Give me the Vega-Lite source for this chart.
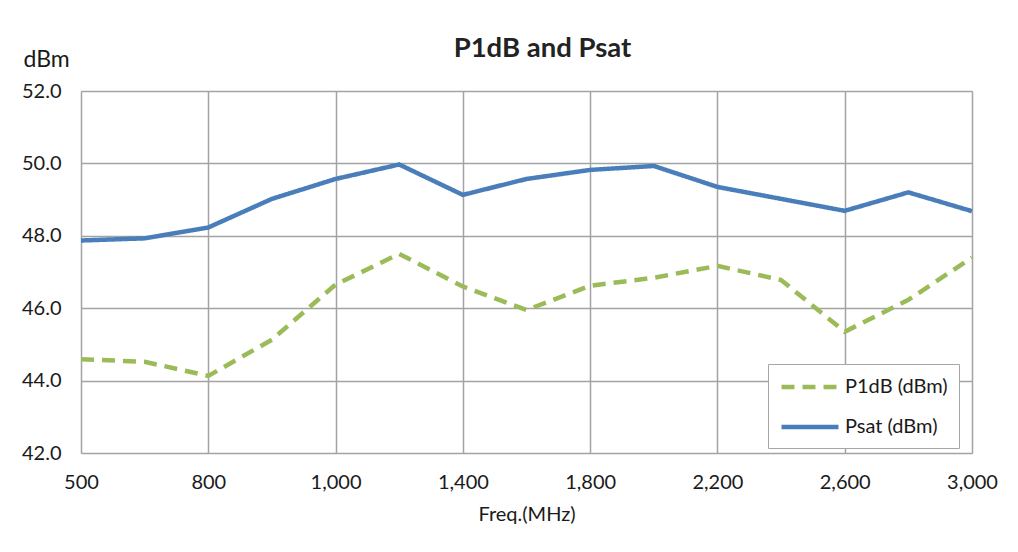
{
  "$schema": "https://vega.github.io/schema/vega-lite/v6.json",
  "autosize": {"type": "none"},
  "width": 891,
  "height": 362,
  "padding": {"left": 81, "top": 91, "right": 46, "bottom": 99},
  "background": "white",
  "title": {
    "text": "P1dB and Psat",
    "font": "Lato",
    "fontSize": 27.5,
    "fontWeight": "bold",
    "color": "#222222",
    "anchor": "middle",
    "baseline": "alphabetic",
    "dx": 16,
    "offset": 0,
    "dy": 36
  },
  "data": {
    "values": [
      {"freq": 500, "series": "P1dB (dBm)", "value": 44.59},
      {"freq": 600, "series": "P1dB (dBm)", "value": 44.52},
      {"freq": 800, "series": "P1dB (dBm)", "value": 44.13},
      {"freq": 900, "series": "P1dB (dBm)", "value": 45.13},
      {"freq": 1000, "series": "P1dB (dBm)", "value": 46.65},
      {"freq": 1200, "series": "P1dB (dBm)", "value": 47.5},
      {"freq": 1400, "series": "P1dB (dBm)", "value": 46.6},
      {"freq": 1600, "series": "P1dB (dBm)", "value": 45.95},
      {"freq": 1800, "series": "P1dB (dBm)", "value": 46.62},
      {"freq": 2000, "series": "P1dB (dBm)", "value": 46.84},
      {"freq": 2200, "series": "P1dB (dBm)", "value": 47.17},
      {"freq": 2400, "series": "P1dB (dBm)", "value": 46.78},
      {"freq": 2600, "series": "P1dB (dBm)", "value": 45.35},
      {"freq": 2800, "series": "P1dB (dBm)", "value": 46.23},
      {"freq": 3000, "series": "P1dB (dBm)", "value": 47.4},
      {"freq": 500, "series": "Psat (dBm)", "value": 47.87},
      {"freq": 600, "series": "Psat (dBm)", "value": 47.93},
      {"freq": 800, "series": "Psat (dBm)", "value": 48.23},
      {"freq": 900, "series": "Psat (dBm)", "value": 49.02},
      {"freq": 1000, "series": "Psat (dBm)", "value": 49.57},
      {"freq": 1200, "series": "Psat (dBm)", "value": 49.97},
      {"freq": 1400, "series": "Psat (dBm)", "value": 49.13},
      {"freq": 1600, "series": "Psat (dBm)", "value": 49.57},
      {"freq": 1800, "series": "Psat (dBm)", "value": 49.82},
      {"freq": 2000, "series": "Psat (dBm)", "value": 49.93},
      {"freq": 2200, "series": "Psat (dBm)", "value": 49.35},
      {"freq": 2400, "series": "Psat (dBm)", "value": 49.02},
      {"freq": 2600, "series": "Psat (dBm)", "value": 48.69},
      {"freq": 2800, "series": "Psat (dBm)", "value": 49.2},
      {"freq": 3000, "series": "Psat (dBm)", "value": 48.68}
    ]
  },
  "mark": {"type": "line", "strokeWidth": 4.5, "strokeCap": "butt", "strokeJoin": "miter"},
  "encoding": {
    "x": {
      "field": "freq",
      "type": "ordinal",
      "scale": {"type": "point", "padding": 0},
      "axis": {
        "title": "Freq.(MHz)",
        "values": [500, 800, 1000, 1400, 1800, 2200, 2600, 3000],
        "labelExpr": "format(datum.value, ',')",
        "labelAngle": 0,
        "grid": true,
        "gridColor": "#a3a3a3",
        "gridWidth": 1.5,
        "domain": false,
        "ticks": false,
        "labelPadding": 19,
        "labelFont": "Lato",
        "labelFontSize": 20,
        "labelColor": "#1a1a1a",
        "titleFont": "Lato",
        "titleFontSize": 20,
        "titleFontWeight": "normal",
        "titleColor": "#1a1a1a",
        "titlePadding": 12
      }
    },
    "y": {
      "field": "value",
      "type": "quantitative",
      "scale": {"domain": [42, 52], "nice": false, "zero": false},
      "axis": {
        "values": [42, 44, 46, 48, 50, 52],
        "format": ".1f",
        "grid": true,
        "gridColor": "#a3a3a3",
        "gridWidth": 1.5,
        "domain": false,
        "ticks": false,
        "labelPadding": 20,
        "labelFont": "Lato",
        "labelFontSize": 20,
        "labelColor": "#1a1a1a",
        "title": "dBm",
        "titleAngle": 0,
        "titleAlign": "left",
        "titleBaseline": "alphabetic",
        "titleX": -58,
        "titleY": -25,
        "titleFont": "Lato",
        "titleFontSize": 23,
        "titleFontWeight": "normal",
        "titleColor": "#1a1a1a"
      }
    },
    "color": {
      "field": "series",
      "type": "nominal",
      "scale": {"domain": ["P1dB (dBm)", "Psat (dBm)"], "range": ["#9bbb59", "#4a7ebb"]},
      "legend": {
        "title": null,
        "orient": "none",
        "legendX": 687,
        "legendY": 273,
        "padding": 11,
        "rowPadding": 18,
        "symbolType": "M-1,0H5",
        "symbolSize": 361,
        "symbolStrokeWidth": 4.5,
        "labelOffset": 42,
        "labelFont": "Lato",
        "labelFontSize": 20,
        "labelColor": "#1a1a1a",
        "strokeColor": "#a6a6a6",
        "fillColor": "white"
      }
    },
    "strokeDash": {
      "field": "series",
      "type": "nominal",
      "scale": {"domain": ["P1dB (dBm)", "Psat (dBm)"], "range": [[13, 8], [1, 0]]},
      "legend": null
    }
  },
  "config": {"view": {"stroke": null}}
}
